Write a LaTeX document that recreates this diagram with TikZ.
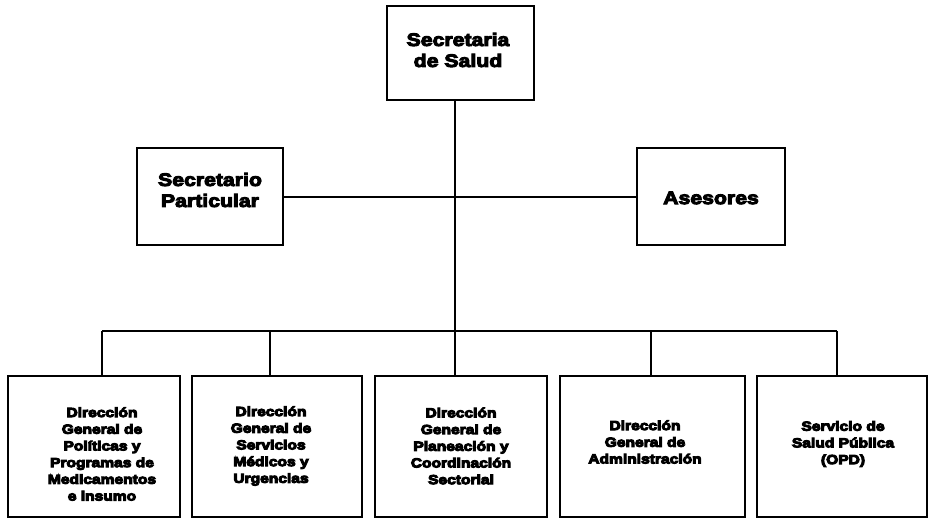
\documentclass[tikz,border=0pt]{standalone}
\usepackage{fontspec}
\setmainfont{Liberation Sans}[FakeStretch=1.18]
% heavy lettering: fill plus outline stroke
\newcommand{\heavyon}{\special{pdf:literal direct 2 Tr 1 w}}
\newcommand{\heavyoff}{\special{pdf:literal direct 0 Tr}}
\begin{document}
\begin{tikzpicture}[x=1pt, y=-1pt,
  box/.style={draw=black, line width=2pt, rectangle, inner sep=0pt},
  bigtxt/.style={font=\fontsize{18}{21}\selectfont\bfseries, align=center, inner sep=0pt},
  smalltxt/.style={font=\fontsize{13.2}{16.7}\selectfont\bfseries, align=center, inner sep=0pt},
  wire/.style={draw=black, line width=2pt}]
  \useasboundingbox (0,0) rectangle (929,520);

  % top level
  \node[box, minimum width=147pt, minimum height=94pt] (sec) at (460.5,53) {};
  \node[bigtxt] (secT) at (458,50) {\heavyon Secretaria\\de Salud\heavyoff};

  % staff boxes
  \node[box, minimum width=146pt, minimum height=97pt] (part) at (210,196.5) {};
  \node[bigtxt] (partT) at (210,190) {\heavyon Secretario\\Particular\heavyoff};
  \node[box, minimum width=148pt, minimum height=97pt] (ases) at (711,196.5) {};
  \node[bigtxt] (asesT) at (711,198) {\heavyon Asesores\heavyoff};

  % directorates
  \node[box, minimum width=172pt, minimum height=141pt] (b1) at (94,446.5) {};
  \node[box, minimum width=170pt, minimum height=141pt] (b2) at (277,446.5) {};
  \node[box, minimum width=172pt, minimum height=141pt] (b3) at (461,446.5) {};
  \node[box, minimum width=185pt, minimum height=141pt] (b4) at (652.5,446.5) {};
  \node[box, minimum width=170pt, minimum height=141pt] (b5) at (842,446.5) {};

  \node[smalltxt] (b1T) at (102,454) {\heavyon Dirección\\General de\\Políticas y\\Programas de\\Medicamentos\\e insumo\heavyoff};
  \node[smalltxt] (b2T) at (271,446) {\heavyon Dirección\\General de\\Servicios\\Médicos y\\Urgencias\heavyoff};
  \node[smalltxt] (b3T) at (461,446) {\heavyon Dirección\\General de\\Planeación y\\Coordinación\\Sectorial\heavyoff};
  \node[smalltxt] (b4T) at (645,442) {\heavyon Dirección\\General de\\Administración\heavyoff};
  \node[smalltxt] (b5T) at (843,444) {\heavyon Servicio de\\Salud Pública\\(OPD)\heavyoff};

  % junctions on the trunk line
  \coordinate (mid) at (455,196);
  \coordinate (bus) at (455,331);
  \coordinate (d1) at (102,331);
  \coordinate (d2) at (270,331);
  \coordinate (d4) at (651,331);
  \coordinate (d5) at (837,331);

  % connectors
  \draw[wire] (sec.south -| mid) -- (bus);
  \draw[wire] (part.east) -- (ases.west);
  \draw[wire] (d1) -- (d5);
  \draw[wire] (d1) -- (d1 |- b1.north);
  \draw[wire] (d2) -- (d2 |- b2.north);
  \draw[wire] (bus) -- (bus |- b3.north);
  \draw[wire] (d4) -- (d4 |- b4.north);
  \draw[wire] (d5) -- (d5 |- b5.north);
\end{tikzpicture}
\end{document}
